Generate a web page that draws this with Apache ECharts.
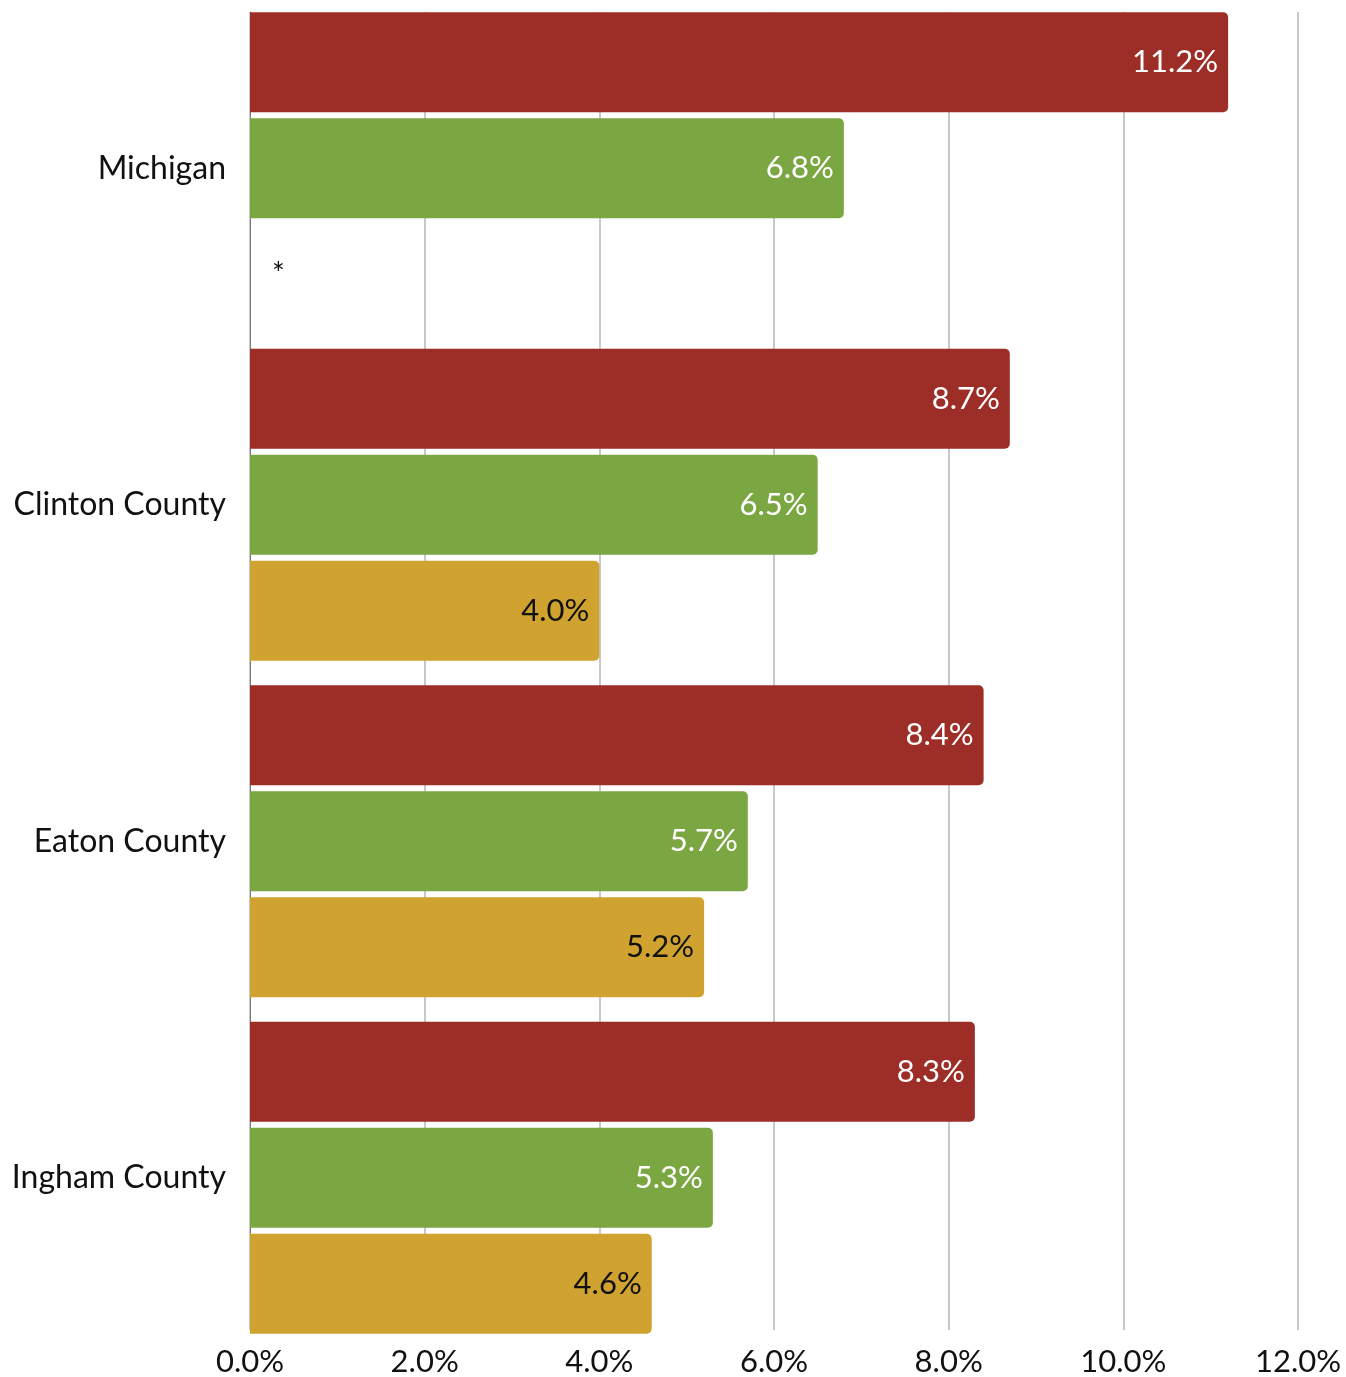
<!DOCTYPE html>
<html><head><meta charset="utf-8">
<script src="https://cdn.jsdelivr.net/npm/echarts@6/dist/echarts.min.js"></script>
<style>html,body{margin:0;padding:0;background:#fff}#c{width:1346px;height:1377px}</style>
</head><body><div id="c"></div>
<script>
const categories = ["Michigan", "Clinton County", "Eaton County", "Ingham County"];
const seriesNames = ["Series 1", "Series 2", "Series 3"];
const series1 = [11.2, 8.7, 8.4, 8.3];
const series2 = [6.8, 6.5, 5.7, 5.3];
const series3 = [null, 4.0, 5.2, 4.6];
const missingMark = "*";
const tickValues = [0, 2, 4, 6, 8, 10, 12];

const colors = ["#9C2D27", "#7BA742", "#D0A22F"];
const labelColors = ["#ffffff", "#ffffff", "#111111"];
const FONT = "Lato, 'Noto Sans', sans-serif";

function mkData(arr) {
  return arr.map(v => v === null
    ? { value: 0, label: { show: true, position: 'right', distance: 22, formatter: missingMark, color: '#111', fontSize: 30, fontFamily: FONT } }
    : v);
}
const allData = [series1, series2, series3];

const chart = echarts.init(document.getElementById('c'), null, { renderer: 'canvas' });
chart.setOption({
  animation: false,
  grid: [
    { left: 250, right: 48, top: 0, bottom: 31 },
    { left: 250, right: 48, top: 12, bottom: 44 }
  ],
  xAxis: [
    { gridIndex: 0, type: 'value', min: 0, max: 12, interval: 2, show: false },
    { gridIndex: 1, type: 'value', min: tickValues[0], max: tickValues[tickValues.length - 1], interval: 2,
      axisLine: { show: false }, axisTick: { show: false },
      splitLine: { show: true, lineStyle: { color: '#c8c8c8', width: 2 } },
      axisLabel: { margin: 16, fontFamily: FONT, fontSize: 31, color: '#111', formatter: v => v.toFixed(1) + '%' } }
  ],
  yAxis: [
    { gridIndex: 0, type: 'category', data: categories, inverse: true,
      axisLine: { show: false }, axisTick: { show: false },
      axisLabel: { margin: 24, fontFamily: FONT, fontSize: 32, color: '#111' } },
    { gridIndex: 1, type: 'category', data: categories, inverse: true,
      axisLine: { show: true, lineStyle: { color: '#7a7a7a', width: 1 } },
      axisTick: { show: false }, axisLabel: { show: false }, splitLine: { show: false } }
  ],
  series: allData.map((arr, i) => ({
    name: seriesNames[i], type: 'bar', xAxisIndex: 0, yAxisIndex: 0,
    data: mkData(arr), barWidth: 100, barGap: '6%', z: 3,
    itemStyle: { color: colors[i], borderRadius: [0, 5, 5, 0] },
    label: { show: true, position: 'insideRight', distance: 10, fontFamily: FONT, fontSize: 31,
      color: labelColors[i], formatter: p => (p.value === 0 && arr[p.dataIndex] === null) ? missingMark : p.value.toFixed(1) + '%' }
  }))
});
</script></body></html>
